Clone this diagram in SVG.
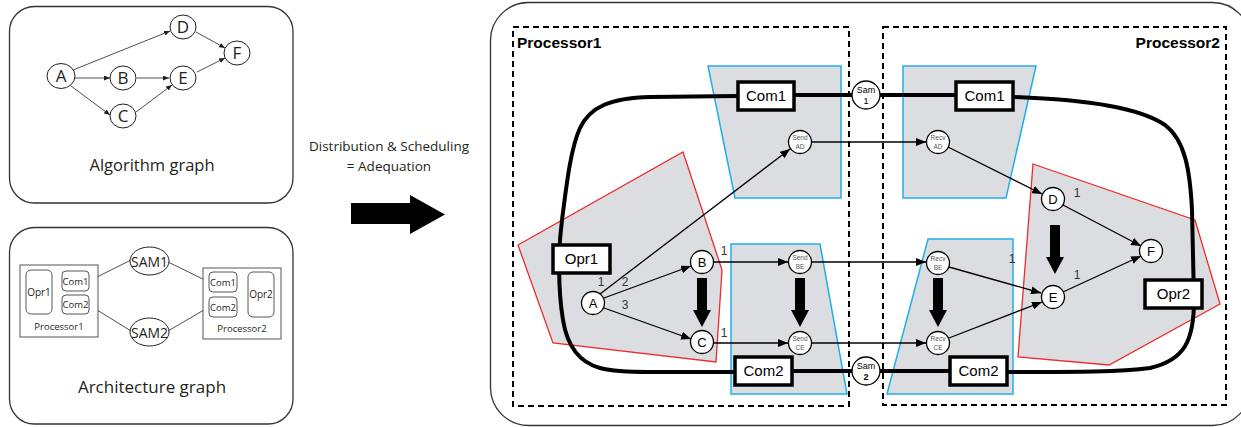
<svg xmlns="http://www.w3.org/2000/svg" width="1241" height="427" viewBox="0 0 1241 427">
<style>
.panel{fill:#fff;stroke:#333;stroke-width:1.3}
.lt{font-family:"Open Sans","Noto Sans",sans-serif;fill:#231f20;text-anchor:middle}
.an{fill:#fff;stroke:#231f20;stroke-width:1}
.ae{stroke:#231f20;stroke-width:0.8;fill:none}
.ab{fill:#fff;stroke:#444;stroke-width:0.9}
.rt{font-family:"Liberation Sans",Arial,sans-serif;text-anchor:middle;fill:#000}
.blue{fill:#dcdde0;stroke:#1eb0e6;stroke-width:1.5}
.red{fill:#dcdde0;stroke:#ee2b2b;stroke-width:1.3}
.dash{fill:none;stroke:#000;stroke-width:2;stroke-dasharray:6,4}
.thick{fill:none;stroke:#000;stroke-width:4}
.box{fill:#fff;stroke:#000;stroke-width:3.5}
.nd{fill:#fff;stroke:#000;stroke-width:1.3}
.edge{stroke:#000;stroke-width:1.3;fill:none}
.small{font-size:6.5px;fill:#555}
.lbl{font-family:"Liberation Sans",Arial,sans-serif;font-size:12px;fill:#333;text-anchor:middle}
</style>
<defs>
<marker id="ah" markerUnits="userSpaceOnUse" markerWidth="10" markerHeight="8" refX="10" refY="4" orient="auto">
<path d="M0,0 L10,4 L0,8 z" fill="#000"/>
</marker>
<marker id="ahs" markerUnits="userSpaceOnUse" markerWidth="6" markerHeight="5" refX="6" refY="2.5" orient="auto">
<path d="M0,0 L6,2.5 L0,5 z" fill="#231f20"/>
</marker>
<path id="darrow" d="M-5,0 L5,0 L5,32 L9,32 L0,49 L-9,32 L-5,32 z" fill="#000"/>
</defs>

<!-- Algorithm graph panel -->
<g id="algorithm-panel">
<rect class="panel" x="9.5" y="6.5" width="283.5" height="196.5" rx="25"/>
<g id="alg-edges">
<line class="ae" x1="73" y1="70" x2="170" y2="31" marker-end="url(#ahs)"/>
<line class="ae" x1="75" y1="78" x2="110" y2="78" marker-end="url(#ahs)"/>
<line class="ae" x1="71" y1="86" x2="110" y2="115" marker-end="url(#ahs)"/>
<line class="ae" x1="137" y1="78" x2="169" y2="78" marker-end="url(#ahs)"/>
<line class="ae" x1="136" y1="112" x2="172" y2="85" marker-end="url(#ahs)"/>
<line class="ae" x1="196" y1="32" x2="225" y2="48" marker-end="url(#ahs)"/>
<line class="ae" x1="197" y1="72" x2="225" y2="58" marker-end="url(#ahs)"/>
</g>
<g id="alg-A"><ellipse class="an" cx="61" cy="76" rx="14" ry="12.5"/><text class="lt" x="61" y="82" font-size="17">A</text></g>
<g id="alg-B"><ellipse class="an" cx="123" cy="78" rx="13" ry="12"/><text class="lt" x="123" y="84" font-size="17">B</text></g>
<g id="alg-C"><ellipse class="an" cx="123" cy="116" rx="13" ry="12"/><text class="lt" x="123" y="122" font-size="17">C</text></g>
<g id="alg-D"><ellipse class="an" cx="183" cy="27" rx="13" ry="12"/><text class="lt" x="183" y="33" font-size="17">D</text></g>
<g id="alg-E"><ellipse class="an" cx="183" cy="78" rx="13" ry="12"/><text class="lt" x="183" y="84" font-size="17">E</text></g>
<g id="alg-F"><ellipse class="an" cx="237" cy="53" rx="13" ry="12"/><text class="lt" x="237" y="59" font-size="17">F</text></g>
<text class="lt" x="152" y="171" font-size="16.5">Algorithm graph</text>
</g>

<!-- Architecture graph panel -->
<g id="architecture-panel">
<rect class="panel" x="9.5" y="227.5" width="283.5" height="196.5" rx="25"/>
<g id="arch-edges">
<line class="ae" x1="89" y1="281" x2="131" y2="260"/>
<line class="ae" x1="168" y1="262" x2="209" y2="282"/>
<line class="ae" x1="89" y1="305" x2="131" y2="331"/>
<line class="ae" x1="168" y1="331" x2="209" y2="307"/>
<line class="ae" x1="52" y1="280" x2="62" y2="280"/>
<line class="ae" x1="52" y1="304" x2="62" y2="304"/>
<line class="ae" x1="237" y1="282" x2="248" y2="282"/>
<line class="ae" x1="237" y1="307" x2="248" y2="307"/>
</g>
<g id="arch-proc1">
<rect x="20" y="265" width="78" height="72" fill="#fff" stroke="#444" stroke-width="0.9"/>
<rect class="ab" x="26" y="270" width="26" height="44" rx="5"/>
<text class="lt" x="39" y="296" font-size="10">Opr1</text>
<rect class="ab" x="62" y="271" width="27" height="20" rx="4"/>
<text class="lt" x="75.5" y="284.5" font-size="9.5">Com1</text>
<rect class="ab" x="62" y="295" width="27" height="19" rx="4"/>
<text class="lt" x="75.5" y="308" font-size="9.5">Com2</text>
<text class="lt" x="59" y="330" font-size="9.5">Processor1</text>
</g>
<g id="arch-proc2">
<rect x="203" y="268" width="78" height="71" fill="#fff" stroke="#444" stroke-width="0.9"/>
<rect class="ab" x="209" y="272" width="28" height="20" rx="4"/>
<text class="lt" x="223" y="285.5" font-size="9.5">Com1</text>
<rect class="ab" x="209" y="297" width="28" height="20" rx="4"/>
<text class="lt" x="223" y="310.5" font-size="9.5">Com2</text>
<rect class="ab" x="248" y="272" width="26" height="45" rx="5"/>
<text class="lt" x="261" y="298" font-size="10">Opr2</text>
<text class="lt" x="242" y="332" font-size="9.5">Processor2</text>
</g>
<g id="arch-sam1"><ellipse class="an" cx="149.5" cy="261" rx="19.5" ry="14"/><text class="lt" x="149.5" y="266.5" font-size="14.5" textLength="37" lengthAdjust="spacingAndGlyphs">SAM1</text></g>
<g id="arch-sam2"><ellipse class="an" cx="149.5" cy="332" rx="19.5" ry="14"/><text class="lt" x="149.5" y="337.5" font-size="14.5" textLength="37" lengthAdjust="spacingAndGlyphs">SAM2</text></g>
<text class="lt" x="152" y="393" font-size="17">Architecture graph</text>
</g>

<!-- Middle -->
<g id="adequation">
<text class="lt" x="389" y="151" font-size="13.5">Distribution &amp; Scheduling</text>
<text class="lt" x="389" y="171" font-size="13.5">= Adequation</text>
<polygon points="351,203 410,203 410,195 445,214.5 410,234 410,224 351,224" fill="#000"/>
</g>

<!-- Right panel -->
<rect class="panel" x="490.5" y="2.5" width="760" height="423" rx="38" stroke="#222" stroke-width="1.6"/>

<g id="regions">
<polygon class="blue" points="708,66 841,66 841,198 735,198"/>
<polygon class="blue" points="903,66 1036,66 1006,198 903,198"/>
<polygon class="blue" points="731,244 820,244 847,394 731,394"/>
<polygon class="blue" points="928,239 1013,239 1013,394 887,394"/>
<polygon class="red" points="683,152 722,270 716,362 553,343 518,245"/>
<polygon class="red" points="1033,164 1195,220 1220,304 1109,365 1018,357"/>
</g>

<g id="processor1">
<rect class="dash" x="513" y="27" width="336" height="379"/>
<text class="rt" x="517" y="48" font-size="15.5" font-weight="bold" style="text-anchor:start">Processor1</text>
</g>
<g id="processor2">
<rect class="dash" x="883" y="27" width="343" height="378"/>
<text class="rt" x="1220" y="48" font-size="15.5" font-weight="bold" style="text-anchor:end">Processor2</text>
</g>

<g id="connectors">
<path class="thick" d="M737,96 L650,97 C610,98 590,107 580,128 C570,150 566,190 562,220 C558,250 558,290 563,320 C567,345 578,362 600,368 C615,372 635,372 650,372 L734,372"/>
<path class="thick" d="M1014,97 C1090,100 1140,108 1165,125 C1185,140 1190,170 1192,210 L1194,300 C1194,340 1185,360 1150,368 C1120,372 1080,372 1008,372"/>
<line class="thick" x1="795" y1="95" x2="852" y2="95"/>
<line class="thick" x1="880" y1="95" x2="955" y2="95"/>
<line class="thick" x1="793" y1="371" x2="852" y2="371"/>
<line class="thick" x1="880" y1="371" x2="949" y2="371"/>

<line class="edge" x1="600" y1="294" x2="790" y2="149" marker-end="url(#ah)"/>
<line class="edge" x1="604" y1="298" x2="691" y2="266" marker-end="url(#ah)"/>
<line class="edge" x1="604" y1="308" x2="691" y2="339" marker-end="url(#ah)"/>
<line class="edge" x1="714" y1="262" x2="788" y2="262" marker-end="url(#ah)"/>
<line class="edge" x1="714" y1="343" x2="788" y2="343" marker-end="url(#ah)"/>
<line class="edge" x1="812" y1="142" x2="926" y2="142" marker-end="url(#ah)"/>
<line class="edge" x1="812" y1="262" x2="926" y2="262" marker-end="url(#ah)"/>
<line class="edge" x1="812" y1="343" x2="926" y2="343" marker-end="url(#ah)"/>
<line class="edge" x1="948" y1="147" x2="1042" y2="194" marker-end="url(#ah)"/>
<line class="edge" x1="949" y1="267" x2="1041" y2="293" marker-end="url(#ah)"/>
<line class="edge" x1="949" y1="338" x2="1042" y2="302" marker-end="url(#ah)"/>
<line class="edge" x1="1063" y1="205" x2="1141" y2="246" marker-end="url(#ah)"/>
<line class="edge" x1="1063" y1="292" x2="1141" y2="256" marker-end="url(#ah)"/>

<use href="#darrow" x="702" y="278"/>
<use href="#darrow" x="800" y="278"/>
<use href="#darrow" x="938" y="278"/>
<use href="#darrow" x="1055" y="225"/>

<text class="lbl" x="601" y="286">1</text>
<text class="lbl" x="625" y="286">2</text>
<text class="lbl" x="625" y="309">3</text>
<text class="lbl" x="724" y="255">1</text>
<text class="lbl" x="724" y="337">1</text>
<text class="lbl" x="1077" y="197">1</text>
<text class="lbl" x="1012" y="263">1</text>
<text class="lbl" x="1077" y="279">1</text>
</g>

<g id="com1-p1"><rect class="box" x="738" y="82" width="56" height="28"/><text class="rt" x="766" y="101" font-size="15">Com1</text></g>
<g id="com2-p1"><rect class="box" x="735" y="357" width="57" height="28"/><text class="rt" x="763.5" y="376" font-size="15">Com2</text></g>
<g id="com1-p2"><rect class="box" x="956" y="82" width="57" height="28"/><text class="rt" x="984.5" y="101" font-size="15">Com1</text></g>
<g id="com2-p2"><rect class="box" x="950" y="357" width="57" height="28"/><text class="rt" x="978.5" y="376" font-size="15">Com2</text></g>
<g id="opr1"><rect class="box" x="553" y="245" width="57" height="28"/><text class="rt" x="581.5" y="264" font-size="15">Opr1</text></g>
<g id="opr2"><rect class="box" x="1145" y="280" width="57" height="28"/><text class="rt" x="1173.5" y="299" font-size="15">Opr2</text></g>

<g id="sam1"><circle class="nd" cx="866" cy="95" r="14"/><text class="rt" x="866" y="93" font-size="9">Sam</text><text class="rt" x="866" y="104" font-size="9">1</text></g>
<g id="sam2"><circle class="nd" cx="866" cy="371" r="14"/><text class="rt" x="866" y="369" font-size="9">Sam</text><text class="rt" x="866" y="380" font-size="9" font-weight="bold">2</text></g>

<g id="node-A"><circle class="nd" cx="593" cy="303" r="11.5"/><text class="rt" x="593" y="308" font-size="13">A</text></g>
<g id="node-B"><circle class="nd" cx="702" cy="262" r="11.5"/><text class="rt" x="702" y="267" font-size="13">B</text></g>
<g id="node-C"><circle class="nd" cx="702" cy="342" r="11.5"/><text class="rt" x="702" y="347" font-size="13">C</text></g>
<g id="node-D"><circle class="nd" cx="1053" cy="199" r="11.5"/><text class="rt" x="1053" y="204" font-size="13">D</text></g>
<g id="node-E"><circle class="nd" cx="1053" cy="297" r="11.5"/><text class="rt" x="1053" y="302" font-size="13">E</text></g>
<g id="node-F"><circle class="nd" cx="1151" cy="251" r="11.5"/><text class="rt" x="1151" y="256" font-size="13">F</text></g>

<g id="send-AD"><circle class="nd" cx="800" cy="142" r="11.5"/><text class="rt small" x="800" y="140">Send</text><text class="rt small" x="800" y="148.5">AD</text></g>
<g id="send-BE"><circle class="nd" cx="800" cy="262" r="11.5"/><text class="rt small" x="800" y="260">Send</text><text class="rt small" x="800" y="268.5">BE</text></g>
<g id="send-CE"><circle class="nd" cx="800" cy="343" r="11.5"/><text class="rt small" x="800" y="341">Send</text><text class="rt small" x="800" y="349.5">CE</text></g>
<g id="recv-AD"><circle class="nd" cx="938" cy="142" r="11.5"/><text class="rt small" x="938" y="140">Recv</text><text class="rt small" x="938" y="148.5">AD</text></g>
<g id="recv-BE"><circle class="nd" cx="938" cy="263" r="11.5"/><text class="rt small" x="938" y="261">Recv</text><text class="rt small" x="938" y="269.5">BE</text></g>
<g id="recv-CE"><circle class="nd" cx="938" cy="343" r="11.5"/><text class="rt small" x="938" y="341">Recv</text><text class="rt small" x="938" y="349.5">CE</text></g>
</svg>
